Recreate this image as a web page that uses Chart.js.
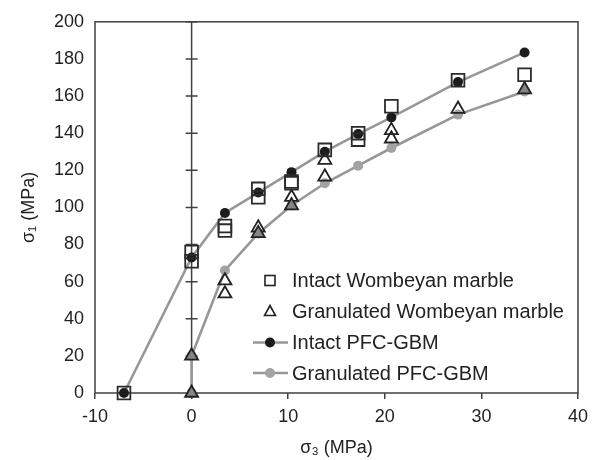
<!DOCTYPE html>
<html>
<head>
<meta charset="utf-8">
<script src="https://cdn.jsdelivr.net/npm/chart.js@4/dist/chart.umd.min.js"></script>
<style>
  html, body { margin: 0; padding: 0; background: #fff; }
  #wrap { width: 602px; height: 460px; position: relative; }
</style>
</head>
<body>
<div id="wrap"><canvas id="c" width="602" height="460"></canvas></div>
<script>
// ---- data ----
const seriesNames = ['Intact Wombeyan marble', 'Granulated Wombeyan marble', 'Intact PFC-GBM', 'Granulated PFC-GBM'];

const intactMarbleX = [-7, 0, 0, 3.45, 3.45, 6.9, 6.9, 10.34, 10.34, 13.79, 17.24, 17.24, 20.68, 27.58, 34.47];
const intactMarbleY = [0, 76, 71, 90, 87.5, 110, 105.5, 114, 113, 131, 140, 136.5, 154.5, 168.5, 171.5];

const granMarbleX = [0, 0, 3.45, 3.45, 6.9, 6.9, 10.34, 10.34, 13.79, 13.79, 20.68, 20.68, 27.58, 34.47];
const granMarbleY = [0, 20, 60.5, 53.5, 89, 86, 105.5, 101, 125.5, 116.5, 141.5, 137, 153, 163.5];

const intactPfcX = [-7, 0, 3.45, 6.9, 10.34, 13.79, 17.24, 20.68, 27.58, 34.47];
const intactPfcY = [0, 73, 97, 108, 119, 130, 139.5, 148.5, 167.5, 183.5];

const granPfcX = [0, 0, 3.45, 6.9, 10.34, 13.79, 17.24, 20.68, 27.58, 34.47];
const granPfcY = [0, 20, 66, 86, 101, 113, 122.5, 132, 150, 162.5];

const xTicks = [-10, 0, 10, 20, 30, 40];
const yTicks = [0, 20, 40, 60, 80, 100, 120, 140, 160, 180, 200];

const xTitle = 'σ₃ (MPa)';
const yTitle = 'σ₁ (MPa)';

// ---- helpers ----
const pts = (xs, ys) => xs.map((x, i) => ({ x: x, y: ys[i] }));
const FONT = '"Liberation Sans", Arial, sans-serif';
const AXIS = '#404040';
const LINE = '#979797';

// triangle fill: grey where a granulated PFC point sits right under it
function triFill(ctx) {
  const p = ctx.raw;
  if (!p) return 'rgba(0,0,0,0)';
  for (let i = 0; i < granPfcX.length; i++) {
    if (Math.abs(granPfcX[i] - p.x) < 0.2 && Math.abs(granPfcY[i] - p.y) < 1.5) return '#858585';
  }
  return 'rgba(0,0,0,0)';
}

const framePlugin = {
  id: 'frame',
  beforeDatasetsDraw(chart) {
    const { ctx, chartArea: a, scales } = chart;
    ctx.save();
    ctx.strokeStyle = AXIS;
    ctx.lineWidth = 1.5;
    ctx.strokeRect(a.left, a.top, a.right - a.left, a.bottom - a.top);
    // vertical axis at x = 0 with crossing ticks
    const x0 = scales.x.getPixelForValue(0);
    ctx.beginPath();
    ctx.moveTo(x0, a.top);
    ctx.lineTo(x0, a.bottom);
    yTicks.forEach(v => {
      if (v === 0) return;
      const y = scales.y.getPixelForValue(v);
      ctx.moveTo(x0 - 6, y);
      ctx.lineTo(x0 + 6, y);
    });
    ctx.stroke();
    ctx.restore();
  },
  afterDatasetsDraw(chart) {
    const { ctx } = chart;
    const ds = chart.data.datasets;
    const sx = 270, tx = 292, rows = [280.5, 311.5, 342.5, 373];
    ctx.save();
    ctx.font = '20px ' + FONT;
    ctx.fillStyle = '#222';
    ctx.textBaseline = 'middle';
    ctx.textAlign = 'left';
    // square
    ctx.strokeStyle = '#222';
    ctx.lineWidth = 1.6;
    ctx.strokeRect(sx - 5, rows[0] - 5, 10, 10);
    // triangle
    ctx.beginPath();
    ctx.moveTo(sx, rows[1] - 6);
    ctx.lineTo(sx + 5.5, rows[1] + 4);
    ctx.lineTo(sx - 5.5, rows[1] + 4);
    ctx.closePath();
    ctx.stroke();
    // lines with circles
    [2, 3].forEach(k => {
      const y = rows[k];
      ctx.strokeStyle = LINE;
      ctx.lineWidth = 2.5;
      ctx.beginPath();
      ctx.moveTo(sx - 17, y);
      ctx.lineTo(sx + 18, y);
      ctx.stroke();
      ctx.fillStyle = ds[k].pointBackgroundColor;
      ctx.beginPath();
      ctx.arc(sx, y, 5, 0, Math.PI * 2);
      ctx.fill();
    });
    ctx.fillStyle = '#222';
    seriesNames.forEach((n, i) => ctx.fillText(n, tx, rows[i] + 1));
    ctx.restore();
  }
};

new Chart(document.getElementById('c'), {
  type: 'scatter',
  data: {
    datasets: [
      {
        label: seriesNames[0],
        data: pts(intactMarbleX, intactMarbleY),
        pointStyle: 'rect',
        pointRadius: 9,
        pointBorderWidth: 1.8,
        pointBorderColor: '#2b2b2b',
        pointBackgroundColor: 'rgba(0,0,0,0)',
        showLine: false,
        clip: false
      },
      {
        label: seriesNames[1],
        data: pts(granMarbleX, granMarbleY),
        pointStyle: 'triangle',
        pointRadius: 7.5,
        pointBorderWidth: 1.8,
        pointBorderColor: '#222',
        pointBackgroundColor: triFill,
        showLine: false,
        clip: false
      },
      {
        label: seriesNames[2],
        data: pts(intactPfcX, intactPfcY),
        pointStyle: 'circle',
        pointRadius: 5,
        pointBorderWidth: 0,
        pointBackgroundColor: '#1c1c1c',
        borderColor: LINE,
        borderWidth: 2.6,
        showLine: true,
        tension: 0,
        clip: false
      },
      {
        label: seriesNames[3],
        data: pts(granPfcX, granPfcY),
        pointStyle: 'circle',
        pointRadius: 5,
        pointBorderWidth: 0,
        pointBackgroundColor: '#a3a3a3',
        borderColor: LINE,
        borderWidth: 2.6,
        showLine: true,
        tension: 0,
        clip: false
      }
    ]
  },
  options: {
    responsive: false,
    animation: false,
    devicePixelRatio: 1,
    layout: { padding: { left: 0, right: 24, top: 18, bottom: 0 } },
    plugins: { legend: { display: false }, tooltip: { enabled: false } },
    scales: {
      x: {
        type: 'linear',
        min: xTicks[0],
        max: xTicks[xTicks.length - 1],
        afterBuildTicks: s => { s.ticks = xTicks.map(v => ({ value: v })); },
        afterFit: s => { s.height = 67; },
        grid: { display: true, drawOnChartArea: false, drawTicks: true, tickLength: 6, color: AXIS, lineWidth: 1.5 },
        border: { display: false },
        ticks: { font: { family: FONT, size: 18 }, color: '#222', padding: 7, maxRotation: 0 },
        title: { display: true, text: xTitle, font: { family: FONT, size: 18 }, color: '#222', padding: { top: 0, bottom: 1 } }
      },
      y: {
        type: 'linear',
        min: yTicks[0],
        max: yTicks[yTicks.length - 1],
        afterBuildTicks: s => { s.ticks = yTicks.map(v => ({ value: v })); },
        afterFit: s => { s.width = 95; },
        grid: { display: false, drawTicks: false },
        border: { display: false },
        ticks: { font: { family: FONT, size: 18 }, color: '#222', padding: 11 },
        title: { display: true, text: yTitle, font: { family: FONT, size: 18 }, color: '#222', padding: { top: 18, bottom: 0 } }
      }
    }
  },
  plugins: [framePlugin]
});
</script>
</body>
</html>
